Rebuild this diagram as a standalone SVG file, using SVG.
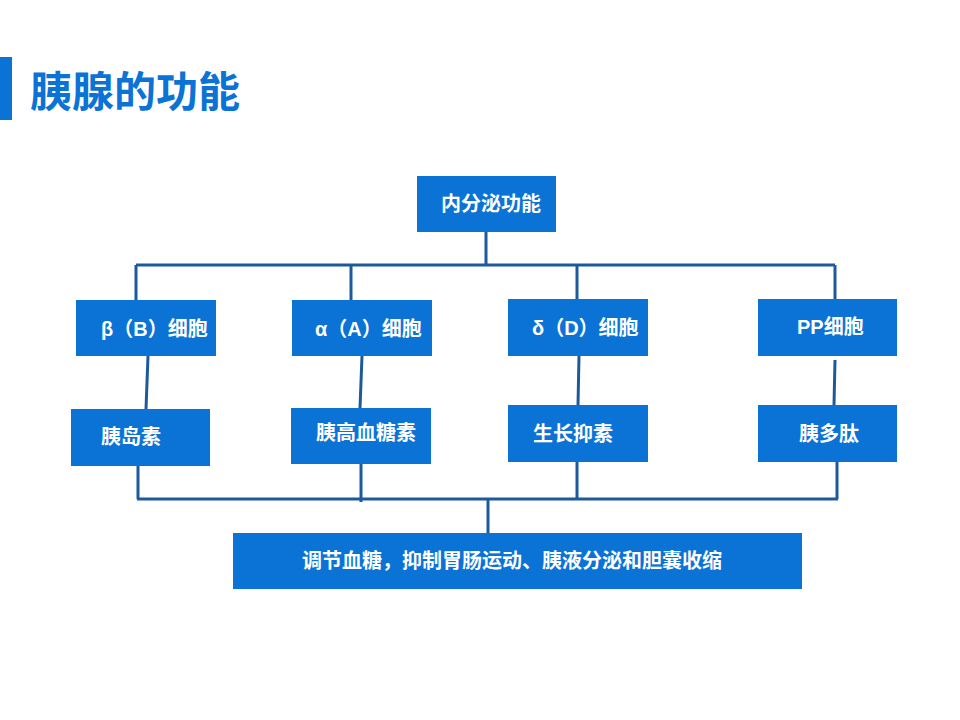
<svg xmlns="http://www.w3.org/2000/svg" width="960" height="720" viewBox="0 0 960 720">
<style>
.box{fill:#0b73d5}
.t{font-family:"Liberation Sans","Noto Sans CJK SC",sans-serif;font-weight:bold;fill:#ffffff;font-size:20px}
.ln{stroke:#1d5a9c;stroke-width:3;fill:none}
</style>
<rect x="0" y="0" width="960" height="720" fill="#ffffff"/>
<g id="title">
<rect x="0" y="57" width="12" height="63" fill="#0b73d5"/>
<text x="30" y="107" font-family="'Liberation Sans','Noto Sans CJK SC',sans-serif" font-weight="bold" font-size="42" fill="#0b73d5">胰腺的功能</text>
</g>
<g id="connectors">
<path class="ln" d="M486 232V265M136 265H835M136 265V300M351 265V300M577 265V300M835 265V300"/>
<path class="ln" d="M148 356L146 409M362 356L360 408M579 356L578 405M835 360L834 405"/>
<path class="ln" d="M138 466V499M361 464V502M577 462V499M837 462V499M137 499H838M488 499V533"/>
</g>
<g id="n_top"><rect class="box" x="417" y="176" width="139" height="56"/><text class="t" x="441" y="211">内分泌功能</text></g>
<g id="n_beta"><rect class="box" x="76" y="300" width="140" height="56"/><text class="t" x="101" y="336">β（B）细胞</text></g>
<g id="n_alpha"><rect class="box" x="292" y="300" width="140" height="56"/><text class="t" x="315" y="336">α（A）细胞</text></g>
<g id="n_delta"><rect class="box" x="508" y="299" width="140" height="57"/><text class="t" x="532" y="335">δ（D）细胞</text></g>
<g id="n_pp"><rect class="box" x="758" y="299" width="139" height="57"/><text class="t" x="797" y="334" font-size="16">PP细胞</text></g>
<g id="n_insulin"><rect class="box" x="71" y="409" width="139" height="57"/><text class="t" x="101" y="444">胰岛素</text></g>
<g id="n_glucagon"><rect class="box" x="291" y="408" width="140" height="56"/><text class="t" x="316" y="440">胰高血糖素</text></g>
<g id="n_somato"><rect class="box" x="508" y="405" width="140" height="57"/><text class="t" x="533" y="441">生长抑素</text></g>
<g id="n_ppep"><rect class="box" x="758" y="405" width="139" height="57"/><text class="t" x="799" y="441">胰多肽</text></g>
<g id="n_func"><rect class="box" x="233" y="533" width="569" height="56"/><text class="t" x="512" y="568" text-anchor="middle">调节血糖，抑制胃肠运动、胰液分泌和胆囊收缩</text></g>
</svg>
